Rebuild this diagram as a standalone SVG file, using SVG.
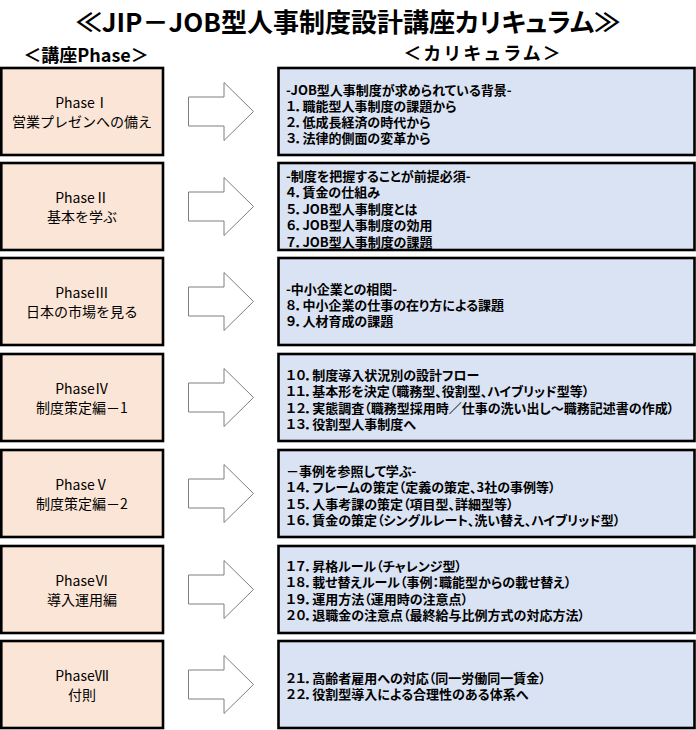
<svg xmlns="http://www.w3.org/2000/svg" width="696" height="730" viewBox="0 0 696 730">
<style>
.bg{fill:#ffffff}
.ph{fill:#FBE5D6;stroke:#000;stroke-width:2.6}
.cu{fill:#DAE3F3;stroke:#000;stroke-width:2.6}
.ar{fill:#fff;stroke:#7F7F7F;stroke-width:1}
text{font-family:"Noto Sans CJK JP","Noto Sans",sans-serif;fill:#000}
.ti{font-size:26px;font-weight:bold;text-anchor:middle;font-feature-settings:"palt"}
.hd{font-size:18px;font-weight:bold;text-anchor:middle}
.pt{font-size:14px;text-anchor:middle;dominant-baseline:central}
.ct{font-size:13px;font-weight:bold;dominant-baseline:central;font-feature-settings:"palt"}
</style>
<rect class="bg" x="0" y="0" width="696" height="730"/>
<text class="ti" x="348" y="32">≪JIP－JOB型人事制度設計講座カリキュラム≫</text>
<text class="hd" x="86" y="62">＜講座Phase＞</text>
<text class="hd" x="483" y="60" letter-spacing="2">＜カリキュラム＞</text>

<g id="connectors">
<polygon class="ar" points="188.5,97 224,97 224,82.5 253.5,111.5 224,140.5 224,126 188.5,126"/>
<polygon class="ar" points="188.5,192 224,192 224,177.5 253.5,206.5 224,235.5 224,221 188.5,221"/>
<polygon class="ar" points="188.5,287 224,287 224,272.5 253.5,301.5 224,330.5 224,316 188.5,316"/>
<polygon class="ar" points="188.5,383 224,383 224,368.5 253.5,397.5 224,426.5 224,412 188.5,412"/>
<polygon class="ar" points="188.5,479 224,479 224,464.5 253.5,493.5 224,522.5 224,508 188.5,508"/>
<polygon class="ar" points="188.5,575 224,575 224,560.5 253.5,589.5 224,618.5 224,604 188.5,604"/>
<polygon class="ar" points="188.5,670 224,670 224,655.5 253.5,684.5 224,713.5 224,699 188.5,699"/>
</g>

<g id="phase1">
<rect class="ph" x="1.3" y="68" width="161.7" height="87"/>
<text class="pt" x="82" y="102">PhaseⅠ</text>
<text class="pt" x="82" y="121">営業プレゼンへの備え</text>
</g>
<g id="phase2">
<rect class="ph" x="1.3" y="163" width="161.7" height="87"/>
<text class="pt" x="82" y="197">PhaseⅡ</text>
<text class="pt" x="82" y="216">基本を学ぶ</text>
</g>
<g id="phase3">
<rect class="ph" x="1.3" y="258" width="161.7" height="87"/>
<text class="pt" x="82" y="292">PhaseⅢ</text>
<text class="pt" x="82" y="311">日本の市場を見る</text>
</g>
<g id="phase4">
<rect class="ph" x="1.3" y="354" width="161.7" height="87"/>
<text class="pt" x="82" y="388">PhaseⅣ</text>
<text class="pt" x="82" y="407">制度策定編－1</text>
</g>
<g id="phase5">
<rect class="ph" x="1.3" y="450" width="161.7" height="87"/>
<text class="pt" x="82" y="484">PhaseⅤ</text>
<text class="pt" x="82" y="503">制度策定編－2</text>
</g>
<g id="phase6">
<rect class="ph" x="1.3" y="546" width="161.7" height="87"/>
<text class="pt" x="82" y="580">PhaseⅥ</text>
<text class="pt" x="82" y="599">導入運用編</text>
</g>
<g id="phase7">
<rect class="ph" x="1.3" y="641" width="161.7" height="87"/>
<text class="pt" x="82" y="675">PhaseⅦ</text>
<text class="pt" x="82" y="694">付則</text>
</g>

<g id="curriculum1">
<rect class="cu" x="278.5" y="68" width="416" height="87"/>
<text class="ct" x="286" y="89">-JOB型人事制度が求められている背景-</text>
<text class="ct" x="286" y="105">１．職能型人事制度の課題から</text>
<text class="ct" x="286" y="121">２．低成長経済の時代から</text>
<text class="ct" x="286" y="137">３．法律的側面の変革から</text>
</g>
<g id="curriculum2">
<rect class="cu" x="278.5" y="163" width="416" height="87"/>
<text class="ct" x="286" y="175">-制度を把握することが前提必須-</text>
<text class="ct" x="286" y="191.5">４．賃金の仕組み</text>
<text class="ct" x="286" y="208">５．JOB型人事制度とは</text>
<text class="ct" x="286" y="224.5">６．JOB型人事制度の効用</text>
<text class="ct" x="286" y="241">７．JOB型人事制度の課題</text>
</g>
<g id="curriculum3">
<rect class="cu" x="278.5" y="258" width="416" height="87"/>
<text class="ct" x="286" y="288">-中小企業との相関-</text>
<text class="ct" x="286" y="304">８．中小企業の仕事の在り方による課題</text>
<text class="ct" x="286" y="320">９．人材育成の課題</text>
</g>
<g id="curriculum4">
<rect class="cu" x="278.5" y="354" width="416" height="87"/>
<text class="ct" x="286" y="374">１０．制度導入状況別の設計フロー</text>
<text class="ct" x="286" y="390.5">１１．基本形を決定（職務型、役割型、ハイブリッド型等）</text>
<text class="ct" x="286" y="407">１２．実態調査（職務型採用時／仕事の洗い出し～職務記述書の作成）</text>
<text class="ct" x="286" y="423.5">１３．役割型人事制度へ</text>
</g>
<g id="curriculum5">
<rect class="cu" x="278.5" y="450" width="416" height="87"/>
<text class="ct" x="286" y="470">－事例を参照して学ぶ-</text>
<text class="ct" x="286" y="486.5">１４．フレームの策定（定義の策定、3社の事例等）</text>
<text class="ct" x="286" y="503">１５．人事考課の策定（項目型、詳細型等）</text>
<text class="ct" x="286" y="519.5">１６．賃金の策定（シングルレート、洗い替え、ハイブリッド型）</text>
</g>
<g id="curriculum6">
<rect class="cu" x="278.5" y="546" width="416" height="87"/>
<text class="ct" x="286" y="565">１７．昇格ルール（チャレンジ型）</text>
<text class="ct" x="286" y="581.5">１８．載せ替えルール（事例：職能型からの載せ替え）</text>
<text class="ct" x="286" y="598">１９．運用方法（運用時の注意点）</text>
<text class="ct" x="286" y="614.5">２０．退職金の注意点（最終給与比例方式の対応方法）</text>
</g>
<g id="curriculum7">
<rect class="cu" x="278.5" y="641" width="416" height="87"/>
<text class="ct" x="286" y="677">２１．高齢者雇用への対応（同一労働同一賃金）</text>
<text class="ct" x="286" y="693.5">２２．役割型導入による合理性のある体系へ</text>
</g>
</svg>
